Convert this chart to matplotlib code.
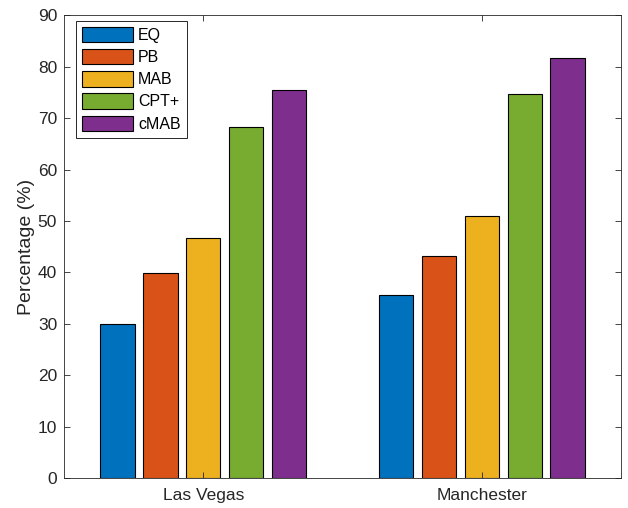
import numpy as np
import matplotlib
matplotlib.use("Agg")
import matplotlib.pyplot as plt

cities = ["Las Vegas", "Manchester"]
methods = ["EQ", "PB", "MAB", "CPT+", "cMAB"]
eq = [30.0, 35.6]
pb = [39.8, 43.1]
mab = [46.7, 50.9]
cpt = [68.2, 74.6]
cmab = [75.4, 81.7]
colors = ["#0072BD", "#D95319", "#EDB120", "#77AC30", "#7E2F8E"]

plt.rcParams["font.family"] = ["Liberation Sans", "DejaVu Sans"]

fig = plt.figure(figsize=(6.28, 5.08), dpi=100)
ax = fig.add_axes([0.102, 0.059, 0.887, 0.911])

x = np.arange(1, len(cities) + 1)
series = [eq, pb, mab, cpt, cmab]
n = len(series)
group_w = min(0.8, n / (n + 1.5))
pitch = group_w / n
for i, (vals, name, c) in enumerate(zip(series, methods, colors)):
    off = (i - (n - 1) / 2) * pitch
    ax.bar(x + off, vals, width=pitch * 0.8, color=c, edgecolor="black",
           linewidth=0.8, label=name)

ax.set_xlim(0.5, 2.5)
ax.set_ylim(0, 90)
ax.set_xticks(x)
ax.set_xticklabels(cities)
ax.set_yticks(np.arange(0, 91, 10))
ax.set_ylabel("Percentage (%)", fontsize=14, color="#262626", labelpad=2)
ax.tick_params(direction="in", length=4, width=0.6, colors="#262626",
               labelsize=12.5, top=True, right=True)
ax.tick_params(axis="x", pad=7)
ax.tick_params(axis="y", pad=5)
for s in ax.spines.values():
    s.set_color("#262626")
    s.set_linewidth(0.6)

leg = ax.legend(loc="upper left", bbox_to_anchor=(0.0215, 0.988), borderaxespad=0,
                fontsize=11.5, handlelength=3.2, handleheight=1.1,
                handletextpad=0.3, labelspacing=0.38, borderpad=0.38,
                fancybox=False, framealpha=1)
leg.get_frame().set_edgecolor("#262626")
leg.get_frame().set_linewidth(0.7)

fig.savefig("out.png", dpi=100)
